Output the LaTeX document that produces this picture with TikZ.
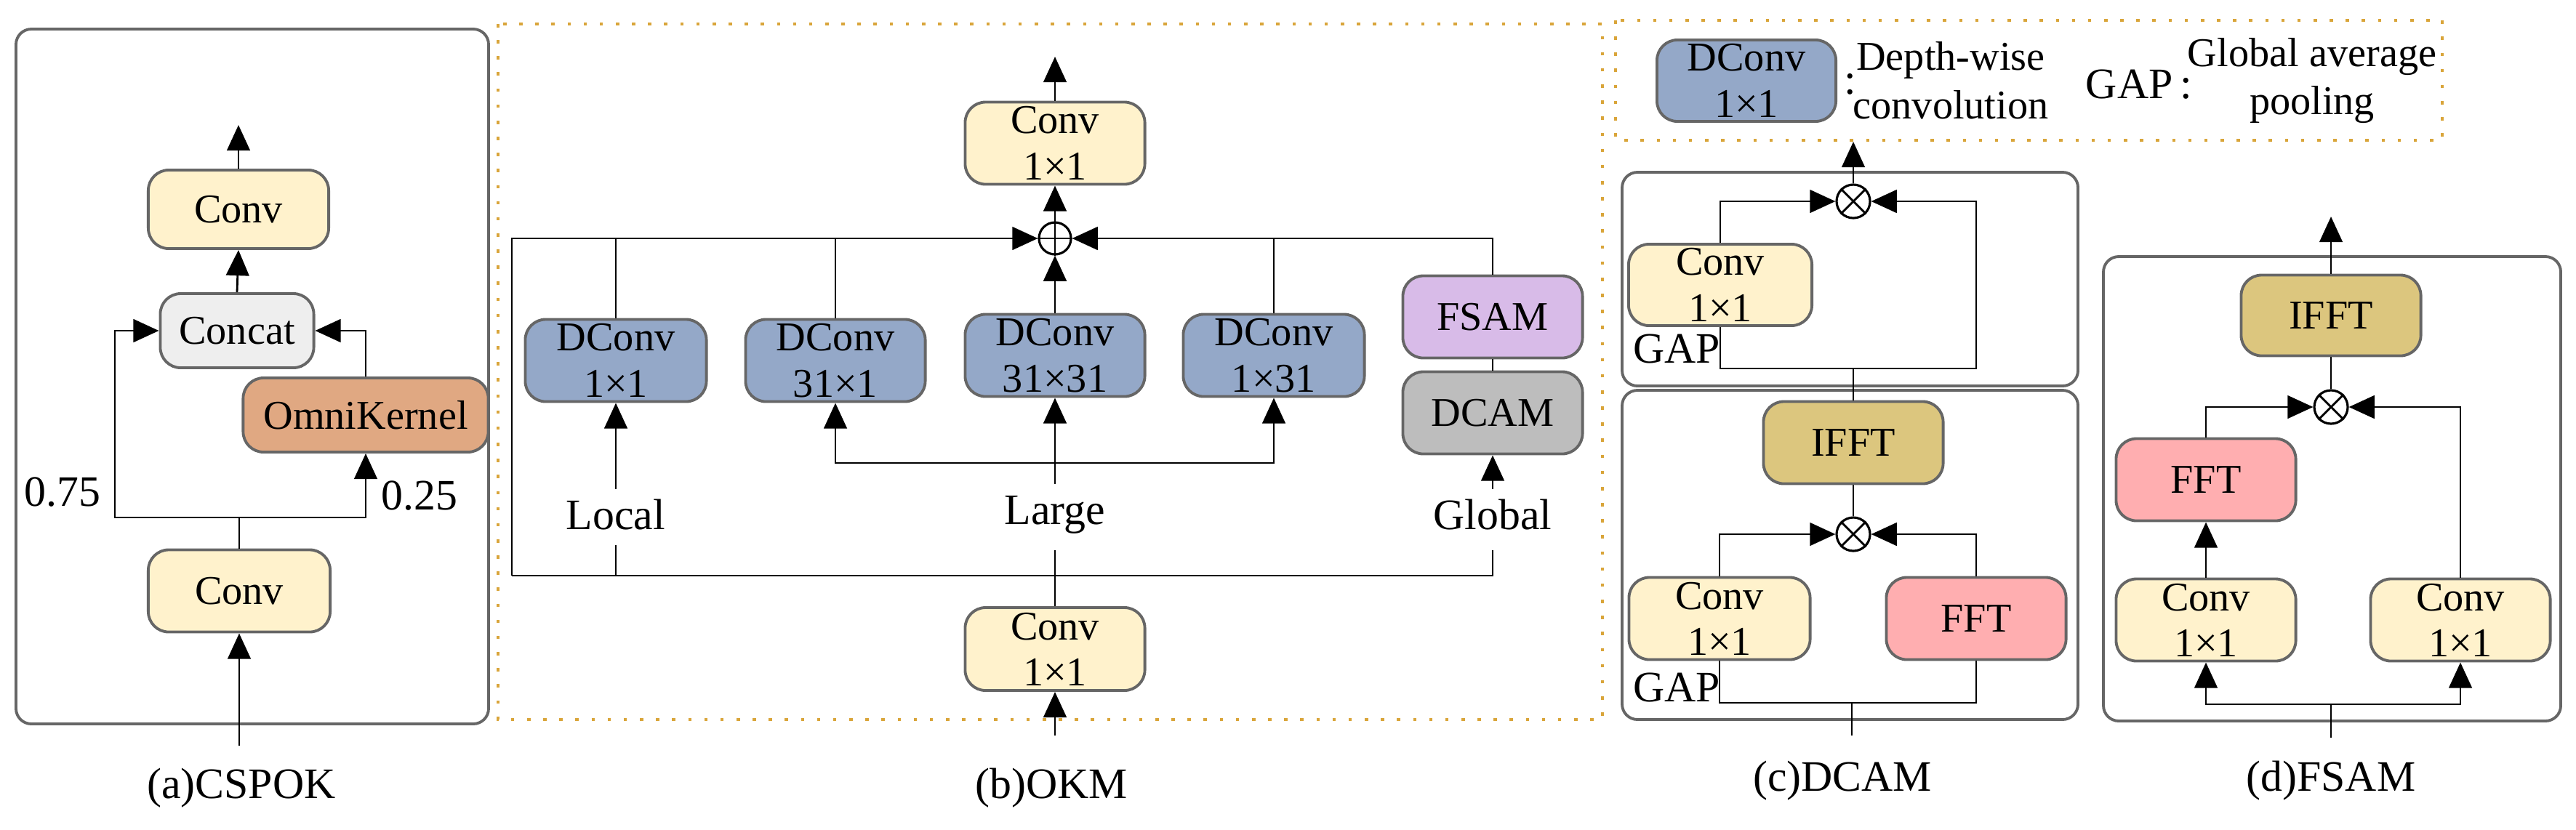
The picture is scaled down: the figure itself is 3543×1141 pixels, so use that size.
\documentclass[tikz,border=0pt]{standalone}
\usepackage{fontspec}
\setmainfont{Liberation Serif}
\newfontfamily\tms{Liberation Serif}
\usetikzlibrary{arrows.meta}
\definecolor{cconv}{HTML}{FFF2CC}
\definecolor{cconcat}{HTML}{EEEEEE}
\definecolor{comni}{HTML}{E0A882}
\definecolor{cdconv}{HTML}{94A8C8}
\definecolor{cfsam}{HTML}{D8BBE8}
\definecolor{cdcam}{HTML}{BDBDBD}
\definecolor{cifft}{HTML}{DCC67E}
\definecolor{cfft}{HTML}{FFAEB0}
\definecolor{corange}{HTML}{D9A53A}
\definecolor{cframe}{HTML}{666666}
\begin{document}
\begin{tikzpicture}[x=0.01cm,y=-0.01cm,
  font=\tms\fontsize{16}{18}\selectfont,
  line width=0.8pt,
  arr/.style={-{Triangle[length=10pt,width=9pt]}},
  bx/.style 2 args={draw=cframe,line width=1.1pt,rounded corners=8pt,minimum width=#1,minimum height=#2,align=center,inner sep=0pt},
  frame/.style={draw=cframe,line width=1.1pt,rounded corners=6pt},
  dotf/.style={draw=corange,line width=1.3pt,dash pattern=on 1.3pt off 5pt},
  op/.style={circle,draw,line width=0.9pt,minimum size=0.44cm,inner sep=0pt},
  lbl/.style={font=\tms\fontsize{17}{19}\selectfont}
]
\useasboundingbox (0,0) rectangle (3543,1141);
% ---------- (a) ----------
\draw[frame] (22,40) rectangle (672,996);
\node[bx={2.48cm}{1.08cm},fill=cconv] (convA2) at (328,288) {Conv};
\node[bx={2.11cm}{1.02cm},fill=cconcat] (concat) at (326,455) {Concat};
\node[bx={3.37cm}{1.02cm},fill=comni] (omni) at (503,571) {OmniKernel};
\node[bx={2.50cm}{1.13cm},fill=cconv] (convA1) at (329,813) {Conv};
\coordinate (splitA) at (329,712);
\coordinate (lA) at (158,712);
\coordinate (rA) at (503,712);
\coordinate (outA) at (328,172);
\coordinate (inA) at (329,1026);
\draw (convA1.north) -- (splitA);
\draw[arr] (splitA) -- (lA) |- (concat.west);
\draw[arr] (splitA) -- (rA) -- (omni.south);
\draw[arr] (omni.north) |- (concat.east);
\draw[arr] (concat.north) -- (convA2.south);
\draw[arr] (convA2.north) -- (outA);
\draw[arr] (inA) -- (convA1.south);
\node[lbl] (t075) at (86,677) {0.75};
\node[lbl] (t025) at (577,682) {0.25};
\node[lbl] (capA) at (332,1084) {(a)CSPOK};
% ---------- (b) ----------
\draw[dotf] (685,33) rectangle (2204,990);
\node[bx={2.47cm}{1.13cm},fill=cconv] (convB2) at (1451,197) {Conv\\1×1};
\node[op] (plus) at (1451,328) {};
\draw (plus.north) -- (plus.south) (plus.west) -- (plus.east);
\node[bx={2.49cm}{1.13cm},fill=cdconv] (dc1) at (847,496) {DConv\\1×1};
\node[bx={2.47cm}{1.13cm},fill=cdconv] (dc2) at (1149,496) {DConv\\31×1};
\node[bx={2.47cm}{1.13cm},fill=cdconv] (dc3) at (1451,489) {DConv\\31×31};
\node[bx={2.49cm}{1.13cm},fill=cdconv] (dc4) at (1752,489) {DConv\\1×31};
\node[bx={2.47cm}{1.13cm},fill=cfsam] (fsam) at (2053,436) {FSAM};
\node[bx={2.47cm}{1.13cm},fill=cdcam] (dcam) at (2053,568) {DCAM};
\node[bx={2.47cm}{1.14cm},fill=cconv] (convB1) at (1451,893) {Conv\\1×1};
\coordinate (blB) at (704,792);
\coordinate (brB) at (2053,792);
\coordinate (gB) at (2053,757);
\coordinate (lgB) at (1451,757);
\coordinate (lcB) at (847,750);
\coordinate (lcB2) at (847,792);
\coordinate (lgS) at (1451,637);
\coordinate (lgT) at (1451,666);
\coordinate (lcT) at (847,673);
\coordinate (glT) at (2053,673);
\coordinate (outB) at (1451,78);
\coordinate (inB) at (1451,1012);
\draw[arr] (blB) |- (plus.west);
\draw (blB) -- (brB) -- (gB);
\draw (lcB) -- (lcB2);
\draw (convB1.north) -- (lgB);
\draw (dc1.north) -- (dc1.north |- plus.west);
\draw (dc2.north) -- (dc2.north |- plus.west);
\draw (dc4.north) -- (dc4.north |- plus.east);
\draw[arr] (fsam.north) |- (plus.east);
\draw[arr] (dc3.north) -- (plus.south);
\draw[arr] (plus.north) -- (convB2.south);
\draw[arr] (convB2.north) -- (outB);
\draw (dcam.north) -- (fsam.south);
\draw[arr] (lcT) -- (dc1.south);
\draw[arr] (lgT) -- (dc3.south);
\draw[arr] (lgS) -| (dc2.south);
\draw[arr] (lgS) -| (dc4.south);
\draw[arr] (glT) -- (dcam.south);
\draw[arr] (inB) -- (convB1.south);
\node[lbl] (tLocal) at (847,708) {Local};
\node[lbl] (tLarge) at (1451,708) {Large};
\node[lbl] (tGlobal) at (2053,708) {Global};
\node[lbl] (capB) at (1446,1084) {(b)OKM};
% ---------- legend ----------
\draw[dotf] (2222,28) rectangle (3359,193);
\node[bx={2.46cm}{1.12cm},fill=cdconv] (lgd) at (2402,111) {DConv\\1×1};
\node[lbl] (colon1) at (2545,116) {:};
\node[lbl,align=center,font=\tms\fontsize{16}{19}\selectfont] (tdw) at (2683,111) {Depth-wise\\convolution};
\node[lbl] (tgap) at (2942,116) {GAP\,:};
\node[lbl,align=center,font=\tms\fontsize{16}{19}\selectfont] (tgp) at (3180,111) {Global average\\pooling};
% ---------- (c) ----------
\draw[frame] (2231,237) rectangle (2858,531);
\draw[frame] (2231,537) rectangle (2858,990);
\node[op,minimum size=0.46cm] (m1) at (2549,277) {};
\draw (m1.north east) -- (m1.south west) (m1.north west) -- (m1.south east);
\node[bx={2.52cm}{1.12cm},fill=cconv] (convC2) at (2366,392) {Conv\\1×1};
\node[bx={2.47cm}{1.13cm},fill=cifft] (iffC) at (2549,609) {IFFT};
\node[op,minimum size=0.46cm] (m2) at (2549,735) {};
\draw (m2.north east) -- (m2.south west) (m2.north west) -- (m2.south east);
\node[bx={2.49cm}{1.13cm},fill=cconv] (convC1) at (2365,851) {Conv\\1×1};
\node[bx={2.47cm}{1.13cm},fill=cfft] (fftC) at (2718,851) {FFT};
\coordinate (gapC) at (2718,507);
\coordinate (midC) at (2549,507);
\coordinate (outC) at (2549,195);
\coordinate (botC) at (2718,967);
\coordinate (stC) at (2547,967);
\coordinate (inC) at (2547,1012);
\draw[arr] (convC2.north) |- (m1.west);
\draw[arr] (convC2.south) |- (gapC) |- (m1.east);
\draw (midC) -- (iffC.north);
\draw[arr] (m1.north) -- (outC);
\draw[arr] (convC1.north) |- (m2.west);
\draw[arr] (fftC.north) |- (m2.east);
\draw (m2.north) -- (iffC.south);
\draw (convC1.south) |- (botC) -- (fftC.south);
\draw (stC) -- (inC);
\node[lbl] (gap1) at (2306,480) {GAP};
\node[lbl] (gap2) at (2306,946) {GAP};
\node[lbl] (capC) at (2534,1074) {(c)DCAM};
% ---------- (d) ----------
\draw[frame] (2893,353) rectangle (3522,992);
\node[bx={2.47cm}{1.11cm},fill=cifft] (iffD) at (3206,434) {IFFT};
\node[op,minimum size=0.46cm] (m3) at (3206,560) {};
\draw (m3.north east) -- (m3.south west) (m3.north west) -- (m3.south east);
\node[bx={2.47cm}{1.13cm},fill=cfft] (fftD) at (3034,660) {FFT};
\node[bx={2.47cm}{1.13cm},fill=cconv] (convD1) at (3034,853) {Conv\\1×1};
\node[bx={2.47cm}{1.13cm},fill=cconv] (convD2) at (3384,853) {Conv\\1×1};
\coordinate (outD) at (3206,298);
\coordinate (botD) at (3206,969);
\coordinate (inD) at (3206,1015);
\draw[arr] (iffD.north) -- (outD);
\draw (m3.north) -- (iffD.south);
\draw[arr] (fftD.north) |- (m3.west);
\draw[arr] (convD2.north) |- (m3.east);
\draw[arr] (convD1.north) -- (fftD.south);
\draw[arr] (botD) -| (convD1.south);
\draw[arr] (botD) -| (convD2.south);
\draw (botD) -- (inD);
\node[lbl] (capD) at (3206,1074) {(d)FSAM};
\end{tikzpicture}
\end{document}
